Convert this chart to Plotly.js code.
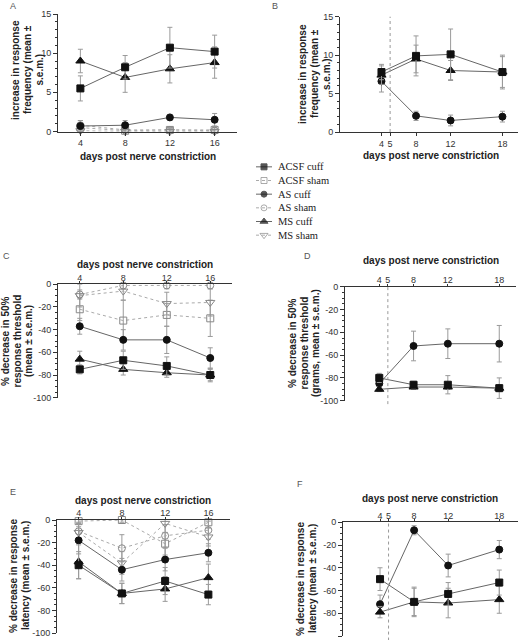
<!DOCTYPE html>
<html>
<head>
<meta charset="utf-8">
<script src="https://cdn.plot.ly/plotly-3.0.1.min.js"></script>
<style>html,body{margin:0;padding:0;background:#fff;}#chart{width:520px;height:640px;}</style>
</head>
<body>
<div id="chart"></div>
<script>
// ---------- data ----------
const seriesNames = ['ACSF cuff', 'ACSF sham', 'AS cuff', 'AS sham', 'MS cuff', 'MS sham'];
const daysLeft = [4, 8, 12, 16];
const daysRight = [4, 8, 12, 18];
const rightTicks = [4, 5, 8, 12, 18];
const surgeryDay = [5];
const freqTicks = [0, 5, 10, 15];
const pctTicks = [0, -20, -40, -60, -80, -100];
const pctTickText = ['0', '-20', '-40', '-60', '-80', '-100'];

// Panel A: increase in response frequency
const aAcsfCuff = [5.5, 8.2, 10.7, 10.2];  const aAcsfCuffErr = [1.6, 1.5, 2.6, 2.1];
const aAcsfSham = [0.5, 0.1, 0.2, 0.2];    const aAcsfShamErr = [0.5, 0.3, 0.3, 0.3];
const aAsCuff   = [0.7, 0.8, 1.8, 1.5];    const aAsCuffErr   = [0.7, 0.6, 0.3, 0.8];
const aAsSham   = [0.8, 0.2, 0.2, 0.1];    const aAsShamErr   = [0.6, 0.2, 0.2, 0.2];
const aMsCuff   = [9.0, 6.9, 8.0, 8.8];    const aMsCuffErr   = [1.5, 1.9, 1.8, 2.0];
const aMsSham   = [0.1, 0.0, 0.0, 0.0];    const aMsShamErr   = [0.2, 0.2, 0.2, 0.2];

// Panel B
const bAcsfCuff = [7.8, 9.9, 10.1, 7.8];   const bAcsfCuffErr = [1.0, 2.6, 3.3, 2.2];
const bAsCuff   = [6.6, 2.1, 1.5, 2.0];    const bAsCuffErr   = [1.4, 0.6, 0.7, 0.7];
const bMsCuff   = [7.4, 9.5, 8.0, 7.8];    const bMsCuffErr   = [1.2, 1.8, 1.3, 2.0];

// Panel C: % decrease in 50% response threshold
const cAcsfCuff = [-75, -67, -72, -80];    const cAcsfCuffErr = [4, 8, 8, 6];
const cAcsfSham = [-22, -32, -27, -30];    const cAcsfShamErr = [10, 18, 10, 16];
const cAsCuff   = [-37, -49, -49, -65];    const cAsCuffErr   = [7, 9, 12, 9];
const cAsSham   = [-9, -1, -1, -1];        const cAsShamErr   = [4, 3, 3, 3];
const cMsCuff   = [-66, -75, -78, -80];    const cMsCuffErr   = [7, 5, 4, 5];
const cMsSham   = [-10, -6, -17, -16];     const cMsShamErr   = [10, 8, 10, 12];

// Panel D
const dAcsfCuff = [-80, -86, -86, -89];    const dAcsfCuffErr = [4, 3, 8, 9];
const dAsCuff   = [-85, -52, -50, -50];    const dAsCuffErr   = [5, 13, 13, 16];
const dMsCuff   = [-90, -88, -88, -89];    const dMsCuffErr   = [2, 2, 2, 3];

// Panel E: % decrease in response latency
const eAcsfCuff = [-40, -65, -54, -66];    const eAcsfCuffErr = [12, 9, 12, 9];
const eAcsfSham = [-1, 0, -21, -2];        const eAcsfShamErr = [2, 2, 10, 5];
const eAsCuff   = [-18, -44, -35, -29];    const eAsCuffErr   = [12, 10, 10, 8];
const eAsSham   = [-10, -25, -14, -9];     const eAsShamErr   = [8, 12, 10, 8];
const eMsCuff   = [-37, -65, -61, -51];    const eMsCuffErr   = [15, 9, 11, 12];
const eMsSham   = [-11, -38, -3, -15];     const eMsShamErr   = [8, 10, 8, 8];

// Panel F
const fAcsfCuff = [-50, -70, -63, -53];    const fAcsfCuffErr = [10, 13, 10, 11];
const fAsCuff   = [-72, -7, -38, -24];     const fAsCuffErr   = [8, 4, 10, 8];
const fMsCuff   = [-79, -70, -71, -68];    const fMsCuffErr   = [5, 12, 13, 12];

// legend key sample points
const legendKeyX = [0, 1, 2];

// ---------- styles ----------
const W = 520, H = 640;
const px = v => v / W;
const py = v => 1 - v / H;
const styles = {
  'ACSF cuff': {symbol: 'square', mcolor: '#111', lcolor: '#666', dash: 'solid', size: 7},
  'ACSF sham': {symbol: 'square-open', mcolor: '#888', lcolor: '#aaa', dash: 'dot', size: 7},
  'AS cuff':   {symbol: 'circle', mcolor: '#111', lcolor: '#666', dash: 'solid', size: 7},
  'AS sham':   {symbol: 'circle-open', mcolor: '#888', lcolor: '#aaa', dash: 'dot', size: 7},
  'MS cuff':   {symbol: 'triangle-up', mcolor: '#111', lcolor: '#666', dash: 'solid', size: 8},
  'MS sham':   {symbol: 'triangle-down-open', mcolor: '#888', lcolor: '#aaa', dash: 'dot', size: 8}
};

const traces = [];
function addSeries(name, xs, ys, errs, ax) {
  const s = styles[name];
  traces.push({
    type: 'scatter', mode: 'lines+markers', name: name, showlegend: false,
    x: xs, y: ys, xaxis: 'x' + ax, yaxis: 'y' + ax, cliponaxis: false,
    line: {color: s.lcolor, width: 1, dash: s.dash},
    marker: {symbol: s.symbol, size: s.size, color: s.mcolor, line: {color: s.mcolor, width: 1}},
    error_y: {type: 'data', array: errs, visible: true, color: '#9a9a9a', thickness: 1, width: 2.5}
  });
}
// draw sham first (behind), cuff on top
addSeries('ACSF sham', daysLeft, aAcsfSham, aAcsfShamErr, '');
addSeries('AS sham', daysLeft, aAsSham, aAsShamErr, '');
addSeries('MS sham', daysLeft, aMsSham, aMsShamErr, '');
addSeries('AS cuff', daysLeft, aAsCuff, aAsCuffErr, '');
addSeries('MS cuff', daysLeft, aMsCuff, aMsCuffErr, '');
addSeries('ACSF cuff', daysLeft, aAcsfCuff, aAcsfCuffErr, '');

addSeries('AS cuff', daysRight, bAsCuff, bAsCuffErr, '2');
addSeries('MS cuff', daysRight, bMsCuff, bMsCuffErr, '2');
addSeries('ACSF cuff', daysRight, bAcsfCuff, bAcsfCuffErr, '2');

addSeries('ACSF sham', daysLeft, cAcsfSham, cAcsfShamErr, '3');
addSeries('AS sham', daysLeft, cAsSham, cAsShamErr, '3');
addSeries('MS sham', daysLeft, cMsSham, cMsShamErr, '3');
addSeries('AS cuff', daysLeft, cAsCuff, cAsCuffErr, '3');
addSeries('MS cuff', daysLeft, cMsCuff, cMsCuffErr, '3');
addSeries('ACSF cuff', daysLeft, cAcsfCuff, cAcsfCuffErr, '3');

addSeries('AS cuff', daysRight, dAsCuff, dAsCuffErr, '4');
addSeries('MS cuff', daysRight, dMsCuff, dMsCuffErr, '4');
addSeries('ACSF cuff', daysRight, dAcsfCuff, dAcsfCuffErr, '4');

addSeries('ACSF sham', daysLeft, eAcsfSham, eAcsfShamErr, '5');
addSeries('AS sham', daysLeft, eAsSham, eAsShamErr, '5');
addSeries('MS sham', daysLeft, eMsSham, eMsShamErr, '5');
addSeries('AS cuff', daysLeft, eAsCuff, eAsCuffErr, '5');
addSeries('MS cuff', daysLeft, eMsCuff, eMsCuffErr, '5');
addSeries('ACSF cuff', daysLeft, eAcsfCuff, eAcsfCuffErr, '5');

addSeries('AS cuff', daysRight, fAsCuff, fAsCuffErr, '6');
addSeries('MS cuff', daysRight, fMsCuff, fMsCuffErr, '6');
addSeries('ACSF cuff', daysRight, fAcsfCuff, fAcsfCuffErr, '6');

// legend keys
seriesNames.forEach(name => {
  const s = styles[name];
  traces.push({
    type: 'scatter', mode: 'lines+markers', showlegend: false, hoverinfo: 'skip',
    x: legendKeyX, y: legendKeyX.map(() => name), xaxis: 'x7', yaxis: 'y7', cliponaxis: false,
    line: {color: s.lcolor, width: 1, dash: s.dash},
    marker: {symbol: s.symbol, color: s.mcolor, size: legendKeyX.map((v, i) => i === 1 ? s.size - 1 : 0),
             line: {color: s.mcolor, width: 1}}
  });
});

// ---------- axes ----------
const tickFont = {family: 'Liberation Sans, Arial, sans-serif', size: 9, color: '#333'};
function xAx(domain, range, ticks, anchor, side) {
  const a = {domain: domain, range: range, anchor: anchor, side: side, tickmode: 'array', tickvals: ticks,
          ticks: 'outside', ticklen: 3, tickcolor: '#333', showline: true, linecolor: '#333', linewidth: 1,
          showgrid: false, zeroline: false, tickfont: tickFont, fixedrange: true};
  if (side === 'top') { a.ticklen = 2; a.ticklabelstandoff = -3; }
  return a;
}
function yAx(domain, range, vals, text, anchor, minorDt) {
  const a = {domain: domain, range: range, anchor: anchor, tickmode: 'array', tickvals: vals,
          ticks: 'outside', ticklen: 4, tickcolor: '#333', showline: true, linecolor: '#333', linewidth: 1,
          showgrid: false, zeroline: false, tickfont: tickFont, fixedrange: true,
          minor: {dtick: minorDt, ticks: 'outside', ticklen: 2, tickcolor: '#333', showgrid: false}};
  if (text) a.ticktext = text;
  return a;
}

const layout = {
  width: W, height: H, margin: {l: 0, r: 0, t: 0, b: 0},
  paper_bgcolor: '#fff', plot_bgcolor: 'rgba(0,0,0,0)', showlegend: false,
  font: {family: 'Liberation Sans, Arial, sans-serif', color: '#222'},
  xaxis:  xAx([px(58), px(237)], [2, 18], daysLeft, 'y', 'bottom'),
  yaxis:  yAx([py(131.5), py(14)], [0, 15], freqTicks, null, 'x', 1),
  xaxis2: xAx([px(340), px(518)], [-0.8, 19.8], rightTicks, 'y2', 'bottom'),
  yaxis2: yAx([py(132), py(16.7)], [0, 15], freqTicks, null, 'x2', 1),
  xaxis3: xAx([px(58), px(232)], [2, 18], daysLeft, 'y3', 'top'),
  yaxis3: yAx([py(397.7), py(284.3)], [-100, 0], pctTicks, pctTickText, 'x3', 5),
  xaxis4: xAx([px(345), px(516.4)], [0, 20], rightTicks, 'y4', 'top'),
  yaxis4: yAx([py(400.7), py(286.7)], [-100, 0], pctTicks, pctTickText, 'x4', 5),
  xaxis5: xAx([px(57), px(230)], [2, 18], daysLeft, 'y5', 'top'),
  yaxis5: yAx([py(633), py(520)], [-100, 0], pctTicks, pctTickText, 'x5', 5),
  xaxis6: xAx([px(343), px(518)], [-0.35, 20.2], rightTicks, 'y6', 'top'),
  yaxis6: yAx([py(636), py(522.3)], [-100, 0], pctTicks, pctTickText, 'x6', 5),
  xaxis7: {domain: [px(250), px(350)], range: [-0.75, 11.75], anchor: 'y7', visible: false, fixedrange: true},
  yaxis7: {domain: [py(242), py(160)], type: 'category', categoryorder: 'array', categoryarray: seriesNames,
           range: [5.5, -0.5], anchor: 'x7', visible: false, fixedrange: true},
  shapes: [], annotations: []
};

// surgery-day dotted lines
[['x2', 'y2', 0, 1], ['x4', 'y4', -0.03, 1], ['x6', 'y6', -0.04, 1]].forEach(([xr, yr, y0, y1]) => {
  surgeryDay.forEach(d => layout.shapes.push({type: 'line', xref: xr, yref: yr + ' domain', x0: d, x1: d,
    y0: y0, y1: y1, line: {color: '#999', width: 1, dash: 'dot'}}));
});

const titleFont = {family: 'Liberation Sans, Arial, sans-serif', size: 10, color: '#222', weight: 'bold'};
function ann(text, x, y, opts) {
  layout.annotations.push(Object.assign({text: text, xref: 'paper', yref: 'paper', x: px(x), y: py(y),
    showarrow: false, font: titleFont, xanchor: 'center', yanchor: 'middle'}, opts || {}));
}
const xTitle = 'days post nerve constriction';
ann(xTitle, 147.5, 156);
ann(xTitle, 431, 155);
ann(xTitle, 145, 264);
ann(xTitle, 431, 260);
ann(xTitle, 143, 500);
ann(xTitle, 430, 498);

function yTitle(lines, xs, yc) {
  lines.forEach((t, i) => ann(t, xs[i], yc, {textangle: -90}));
}
yTitle(['increase in response', 'frequency (mean ±', 's.e.m.)'], [15, 27, 38.5], 70);
yTitle(['increase in response', 'frequency (mean ±', 's.e.m.)'], [303, 315, 327], 74);
yTitle(['% decrease in 50%', 'response threshold', '(mean ± s.e.m.)'], [5, 16.5, 28], 341);
yTitle(['% decrease in 50%', 'response threshold', '(grams, mean ± s.e.m.)'], [292, 303.5, 315], 343);
yTitle(['% decrease in response', 'latency (mean ± s.e.m.)'], [13, 25], 576);
yTitle(['% decrease in response', 'latency (mean ± s.e.m.)'], [300, 312], 579);

// panel letters
const letterFont = {family: 'Liberation Sans, Arial, sans-serif', size: 9, color: '#555'};
[['A', 13, 6], ['B', 275, 6], ['C', 6, 256], ['D', 307, 256], ['E', 13, 492], ['F', 300, 484]].forEach(([t, x, y]) =>
  ann(t, x, y, {font: letterFont}));

// legend labels
seriesNames.forEach(name => layout.annotations.push({text: name, xref: 'x7', yref: 'y7', x: 2.5, y: name,
  showarrow: false, xanchor: 'left', yanchor: 'middle',
  font: {family: 'Liberation Serif, Times New Roman, serif', size: 10.5, color: '#222'}}));

Plotly.newPlot('chart', traces, layout, {staticPlot: true, displayModeBar: false});
</script>
</body>
</html>
